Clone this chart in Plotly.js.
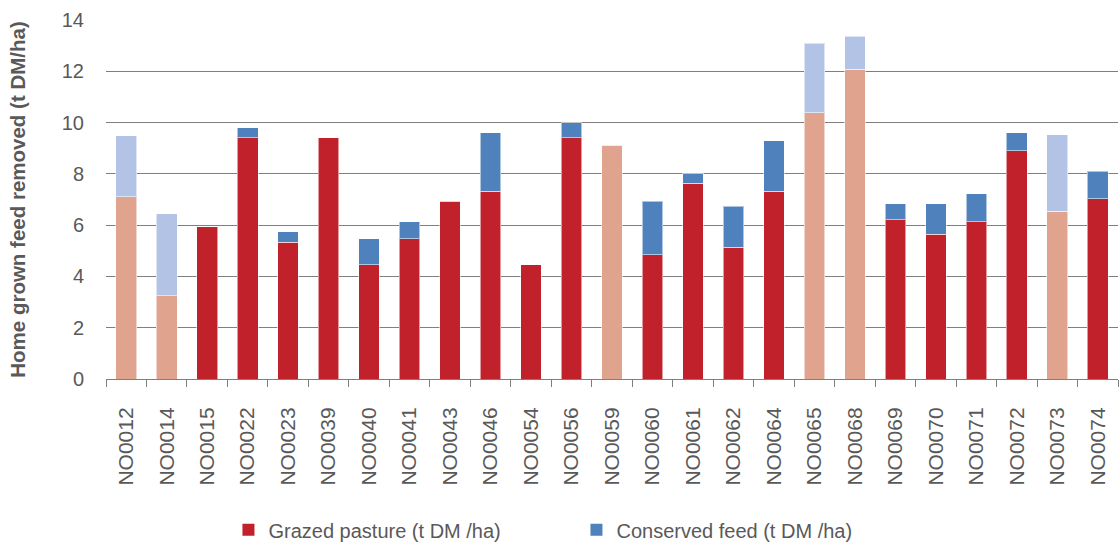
<!DOCTYPE html>
<html>
<head>
<meta charset="utf-8">
<script src="https://cdn.plot.ly/plotly-3.0.1.min.js"></script>
<style>html,body{margin:0;padding:0;background:#fff;}#chart{width:1120px;height:545px;}</style>
</head>
<body>
<div id="chart"></div>
<script>
const categories = ["NO0012","NO0014","NO0015","NO0022","NO0023","NO0039","NO0040","NO0041","NO0043","NO0046","NO0054","NO0056","NO0059","NO0060","NO0061","NO0062","NO0064","NO0065","NO0068","NO0069","NO0070","NO0071","NO0072","NO0073","NO0074"];
const grazed =    [7.11, 3.25, 5.94, 9.40, 5.34, 9.41, 4.45, 5.46, 6.94, 7.32, 4.45, 9.40, 9.11, 4.84, 7.63, 5.13, 7.32, 10.39, 12.07, 6.22, 5.64, 6.13, 8.90, 6.54, 7.02];
const conserved = [2.38, 3.20, 0.00, 0.40, 0.40, 0.00, 1.01, 0.67, 0.00, 2.28, 0.00, 0.59, 0.00, 2.09, 0.39, 1.60, 1.98, 2.71, 1.29, 0.62, 1.20, 1.10, 0.70, 2.99, 1.09];
const highlighted = ["NO0012","NO0014","NO0059","NO0065","NO0068","NO0073"];
const seriesNames = ["Grazed pasture (t DM /ha)", "Conserved feed (t DM /ha)"];

const RED = "#C0212A", RED_LIGHT = "#E0A38D";
const BLUE = "#4F81BD", BLUE_LIGHT = "#B3C3E5";
const isLight = categories.map(c => highlighted.includes(c));
const font = "Liberation Sans, Arial, sans-serif";
const outline = {color: "rgba(255,255,255,0.55)", width: 1};

const traces = [
  {type: "bar", x: categories, y: grazed, name: seriesNames[0], showlegend: false,
   marker: {color: isLight.map(l => l ? RED_LIGHT : RED), line: outline}},
  {type: "bar", x: categories, y: conserved, name: seriesNames[1], showlegend: false,
   marker: {color: isLight.map(l => l ? BLUE_LIGHT : BLUE), line: outline}},
  {type: "bar", x: [categories[0]], y: [null], name: seriesNames[0], marker: {color: RED}},
  {type: "bar", x: [categories[0]], y: [null], name: seriesNames[1], marker: {color: BLUE}}
];

const layout = {
  width: 1120, height: 545,
  margin: {l: 106, r: 2, t: 20, b: 166},
  barmode: "stack",
  bargap: 0.49,
  paper_bgcolor: "#fff", plot_bgcolor: "#fff",
  font: {family: font, color: "#595959", size: 19},
  xaxis: {
    type: "category",
    tickangle: -90,
    tickfont: {size: 21, color: "#595959"},
    showline: true, linecolor: "#7f7f7f", linewidth: 1,
    ticks: "outside", tickson: "boundaries", ticklen: 7, tickcolor: "#7f7f7f",
    ticklabelstandoff: 19,
    showgrid: false, automargin: false
  },
  yaxis: {
    range: [0, 14], dtick: 2,
    tickfont: {size: 20, color: "#595959"},
    showgrid: true, gridcolor: "#7f7f7f", gridwidth: 1,
    zeroline: true, zerolinecolor: "#7f7f7f", zerolinewidth: 1,
    ticks: "", ticklabelstandoff: 21,
    automargin: false,
    title: {text: "<b>Home grown feed removed (t DM/ha)</b>", font: {size: 20.5, color: "#595959"}, standoff: 30}
  },
  legend: {
    orientation: "h", traceorder: "normal", x: 0.121, xanchor: "left", yref: "container", y: 0.028, yanchor: "middle",
    font: {size: 20, color: "#595959"}, entrywidth: 303, entrywidthmode: "pixels"
  },
  showlegend: true
};

Plotly.newPlot("chart", traces, layout, {displayModeBar: false, staticPlot: true});
</script>
</body>
</html>
